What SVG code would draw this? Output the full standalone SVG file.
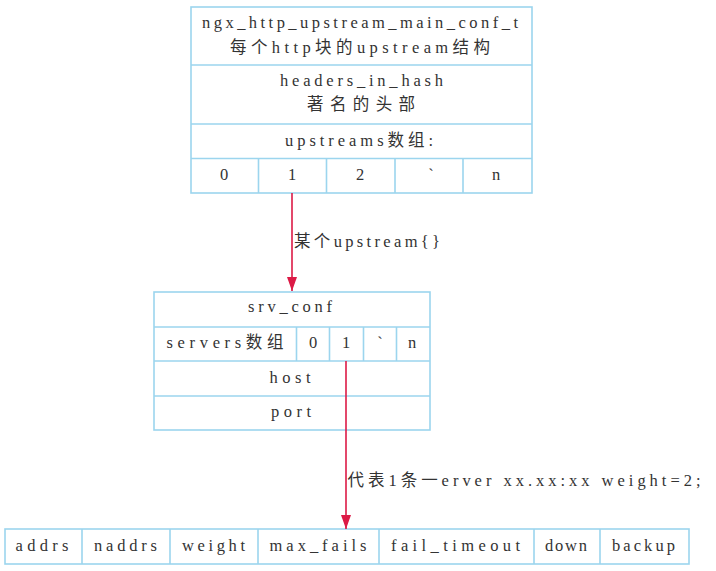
<svg xmlns="http://www.w3.org/2000/svg" width="716" height="571" viewBox="0 0 716 571">
<style>
.box{fill:#ffffff;stroke:#9cd5ee;stroke-width:1.6}
.ln{stroke:#9cd5ee;stroke-width:1.6;fill:none}
text{font-family:"Liberation Serif","Noto Sans CJK SC",serif;font-size:16.5px;fill:#333333;text-anchor:middle}
.lbl{text-anchor:start}
.conn{stroke:#dc1a46;stroke-width:1.6;fill:none}
</style>
<defs>
<marker id="ah" markerUnits="userSpaceOnUse" viewBox="0 0 14 10" markerWidth="14" markerHeight="10" refX="14" refY="5" orient="auto">
<path d="M0,0 L14,5 L0,10 z" fill="#dc1a46"/>
</marker>
</defs>
<rect width="716" height="571" fill="#ffffff"/>

<g id="upstream_main_conf">
<rect class="box" x="191" y="7" width="341" height="186"/>
<path class="ln" d="M191,65H532M191,124H532M191,158.5H532M258.5,158.5V193M326.5,158.5V193M395,158.5V193M463,158.5V193"/>
<text x="360" y="28" textLength="316" lengthAdjust="spacing">ngx_http_upstream_main_conf_t</text>
<text x="360" y="53" textLength="260" lengthAdjust="spacing">每个http块的upstream结构</text>
<text x="361.5" y="86" textLength="163" lengthAdjust="spacing">headers_in_hash</text>
<text x="361" y="110" textLength="108" lengthAdjust="spacing">著名的头部</text>
<text x="359" y="146" textLength="148" lengthAdjust="spacing">upstreams数组:</text>
<text x="224" y="180">0</text>
<text x="292" y="180">1</text>
<text x="360" y="180">2</text>
<text x="431" y="180">`</text>
<text x="496" y="180">n</text>
</g>

<g id="srv_conf">
<rect class="box" x="154" y="292" width="276" height="138"/>
<path class="ln" d="M154,327H430M154,361H430M154,396H430M296.5,327V361M329.5,327V361M363.5,327V361M396.5,327V361"/>
<text x="290" y="312" textLength="84" lengthAdjust="spacing">srv_conf</text>
<text x="225" y="348" textLength="117" lengthAdjust="spacing">servers数组</text>
<text x="313" y="348">0</text>
<text x="346" y="348">1</text>
<text x="380" y="348">`</text>
<text x="412" y="348">n</text>
<text x="290" y="383" textLength="41" lengthAdjust="spacing">host</text>
<text x="291" y="417" textLength="40" lengthAdjust="spacing">port</text>
</g>

<g id="server_struct">
<rect class="box" x="5" y="529" width="684" height="35"/>
<path class="ln" d="M82,529V564M170,529V564M258,529V564M379,529V564M534,529V564M600,529V564"/>
<text x="42" y="551" textLength="53" lengthAdjust="spacing">addrs</text>
<text x="125.5" y="551" textLength="63" lengthAdjust="spacing">naddrs</text>
<text x="213.5" y="551" textLength="63" lengthAdjust="spacing">weight</text>
<text x="318" y="551" textLength="97" lengthAdjust="spacing">max_fails</text>
<text x="455.5" y="551" textLength="129" lengthAdjust="spacing">fail_timeout</text>
<text x="566" y="551" textLength="42" lengthAdjust="spacing">down</text>
<text x="643.5" y="551" textLength="63" lengthAdjust="spacing">backup</text>
</g>

<g id="connectors">
<line class="conn" x1="292" y1="193" x2="292" y2="291" marker-end="url(#ah)"/>
<text class="lbl" x="294" y="247" textLength="146" lengthAdjust="spacing">某个upstream{}</text>
<line class="conn" x1="346" y1="361" x2="346" y2="529" marker-end="url(#ah)"/>
<text class="lbl" x="347.5" y="486" textLength="353" lengthAdjust="spacing">代表1条一erver xx.xx:xx weight=2;</text>
</g>
</svg>
